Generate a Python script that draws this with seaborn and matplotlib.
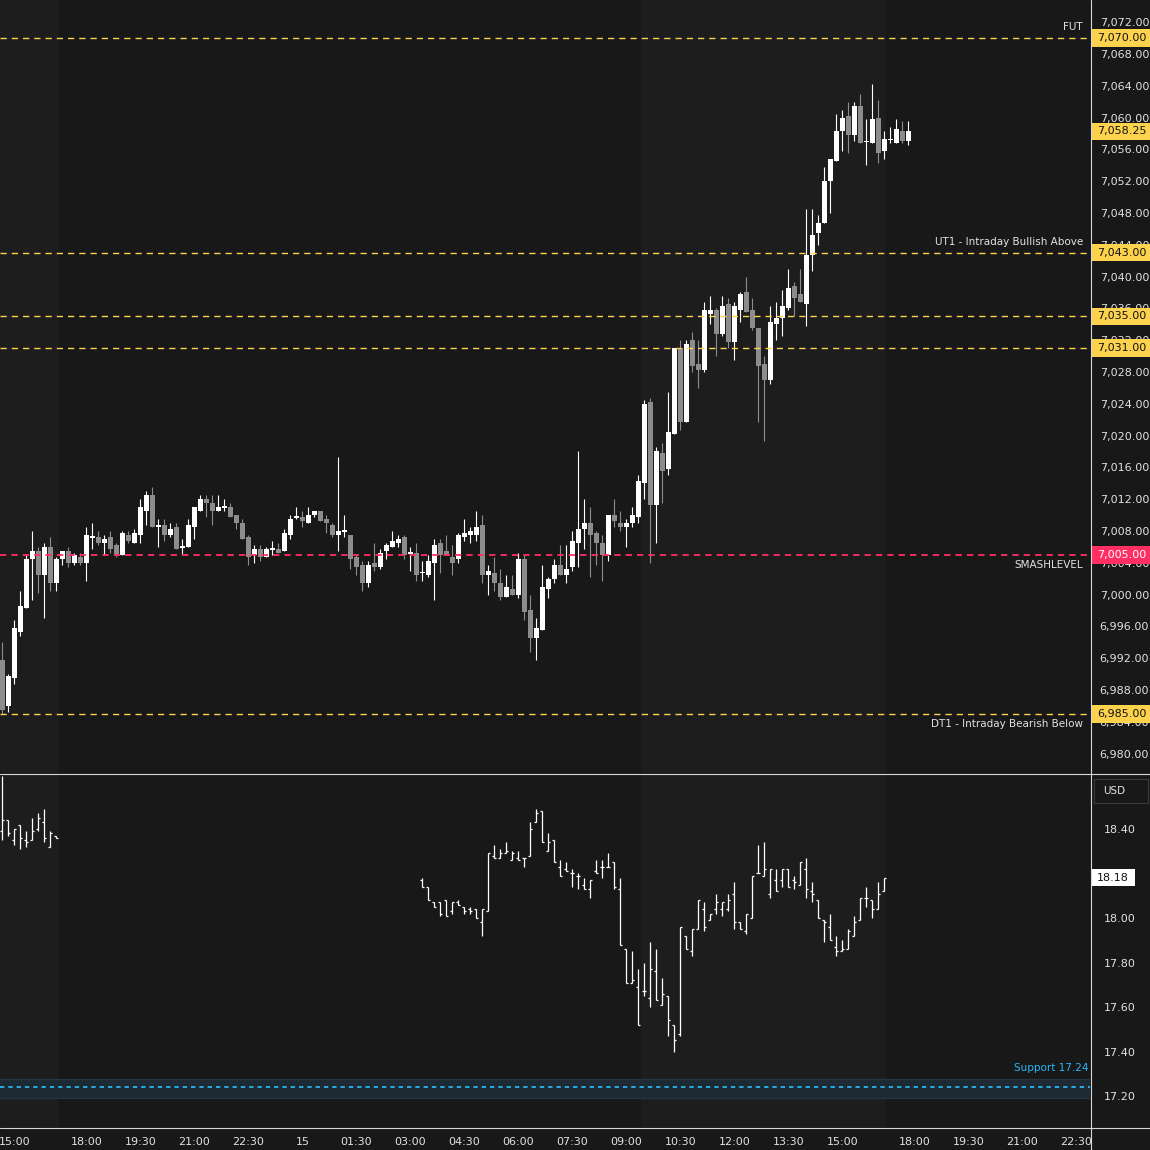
import matplotlib
matplotlib.use('Agg')
import matplotlib.pyplot as plt
import matplotlib.transforms as mtransforms
from matplotlib.patches import Rectangle
from matplotlib.lines import Line2D
import seaborn as sns
import numpy as np
import pandas as pd

# ---- futures candles (10 min bars, index 0 = 14:40) ----
fut_open = [
    6991.75, 6986.0, 6989.5, 6995.25, 6998.25, 7004.5, 7005.5, 7002.5, 7006.0, 7001.5,
    7004.5, 7005.5, 7004.0, 7004.75, 7004.0, 7007.25, 7007.25, 7006.5, 7007.25, 7006.25,
    7005.0, 7007.5, 7006.5, 7007.5, 7010.5, 7012.5, 7008.5, 7008.75, 7007.5, 7008.5,
    7006.0, 7006.0, 7008.5, 7010.5, 7012.0, 7011.5, 7010.5, 7011.0, 7011.0, 7010.0,
    7009.0, 7007.25, 7005.0, 7005.75, 7004.75, 7005.75, 7005.75, 7005.5, 7007.5, 7009.75,
    7009.75, 7009.0, 7010.0, 7010.5, 7009.5, 7008.75, 7007.5, 7008.0, 7007.5, 7004.75,
    7003.75, 7001.5, 7004.0, 7003.5, 7005.5, 7006.0, 7006.5, 7007.25, 7005.25, 7005.25,
    7002.75, 7002.5, 7004.0, 7006.5, 7005.5, 7004.75, 7004.5, 7007.25, 7007.5, 7007.5,
    7008.75, 7002.5, 7002.75, 7001.5, 6999.75, 7000.75, 7000.0, 7004.5, 6998.0, 6994.5,
    6995.5, 7000.75, 7002.0, 7003.75, 7002.5, 7003.5, 7006.5, 7008.25, 7009.0, 7007.75,
    7006.5, 7005.0, 7010.0, 7009.0, 7008.5, 7009.0, 7009.75, 7014.0, 7024.25, 7011.25,
    7017.75, 7015.75, 7020.25, 7031.0, 7021.75, 7032.0, 7029.0, 7028.25, 7035.25, 7035.75,
    7032.75, 7036.5, 7031.75, 7035.75, 7038.0, 7035.75, 7033.5, 7029.0, 7027.0, 7034.0,
    7034.75, 7036.0, 7038.75, 7037.75, 7036.5, 7042.75, 7045.5, 7046.75, 7052.0, 7054.5,
    7058.25, 7060.25, 7057.75, 7061.5, 7057.0, 7056.75, 7060.0, 7055.75, 7057.25, 7056.75,
    7058.25, 7057.0]
fut_high = [
    6994.0, 6990.0, 6996.75, 7000.5, 7005.0, 7008.0, 7006.0, 7006.5, 7007.25, 7004.75,
    7005.5, 7006.0, 7005.25, 7005.25, 7008.5, 7009.0, 7008.0, 7007.5, 7008.0, 7006.5,
    7008.0, 7008.0, 7008.25, 7012.0, 7013.0, 7013.5, 7009.5, 7009.5, 7009.0, 7009.0,
    7007.0, 7009.5, 7011.0, 7012.5, 7012.5, 7012.5, 7012.5, 7012.0, 7011.5, 7010.0,
    7009.5, 7007.5, 7006.25, 7006.25, 7006.0, 7006.75, 7006.5, 7008.25, 7010.0, 7011.0,
    7010.5, 7011.0, 7010.5, 7010.5, 7010.0, 7009.0, 7017.25, 7010.0, 7007.5, 7005.0,
    7004.25, 7004.25, 7006.5, 7005.75, 7006.5, 7008.0, 7007.5, 7007.5, 7006.0, 7006.5,
    7004.25, 7005.0, 7007.0, 7007.0, 7007.5, 7006.25, 7007.75, 7009.5, 7008.5, 7010.5,
    7010.0, 7003.75, 7004.75, 7003.25, 7002.5, 7002.5, 7005.25, 7005.0, 7000.0, 6997.0,
    7003.75, 7002.25, 7004.5, 7006.25, 7006.25, 7008.0, 7018.0, 7012.0, 7011.0, 7008.0,
    7007.5, 7010.0, 7012.0, 7010.5, 7009.5, 7011.0, 7015.0, 7024.5, 7024.75, 7018.5,
    7019.0, 7025.5, 7031.0, 7032.0, 7032.0, 7033.0, 7032.0, 7036.75, 7037.5, 7036.0,
    7037.5, 7037.25, 7036.75, 7038.0, 7040.0, 7037.25, 7033.5, 7030.0, 7036.25, 7036.75,
    7038.25, 7041.0, 7039.25, 7041.0, 7048.5, 7048.5, 7047.75, 7053.75, 7054.75, 7060.5,
    7061.0, 7062.0, 7062.0, 7063.0, 7059.75, 7064.25, 7062.25, 7058.25, 7058.75, 7059.75,
    7059.5, 7059.5]
fut_low = [
    6985.0, 6985.25, 6988.75, 6994.75, 6998.25, 6999.25, 7000.25, 6997.0, 7000.5, 7000.5,
    7003.75, 7003.5, 7003.75, 7003.75, 7001.75, 7005.75, 7006.25, 7005.0, 7005.25, 7004.75,
    7005.0, 7006.5, 7006.5, 7006.5, 7008.75, 7008.5, 7006.0, 7006.75, 7007.25, 7005.75,
    7005.0, 7006.0, 7007.0, 7010.5, 7009.75, 7008.75, 7010.5, 7010.5, 7009.75, 7008.25,
    7007.0, 7003.75, 7004.0, 7004.25, 7004.75, 7005.0, 7005.25, 7005.5, 7007.0, 7009.5,
    7008.5, 7009.0, 7009.75, 7009.25, 7007.75, 7007.25, 7005.5, 7007.25, 7003.25, 7002.5,
    7000.5, 7001.0, 7003.0, 7003.25, 7004.5, 7006.0, 7006.0, 7004.5, 7003.0, 7001.75,
    7001.75, 7002.25, 6999.25, 7002.75, 7005.0, 7002.5, 7004.0, 7006.75, 7006.5, 7006.75,
    7001.5, 7000.0, 7000.5, 6999.25, 6999.75, 7000.0, 6999.5, 6996.75, 6992.75, 6991.75,
    6995.5, 6999.5, 7001.5, 7002.5, 7001.5, 7003.0, 7003.5, 7005.75, 7002.25, 7003.75,
    7001.75, 7004.25, 7008.5, 7008.0, 7006.0, 7008.5, 7009.0, 7012.0, 7004.0, 7006.5,
    7011.5, 7015.0, 7020.25, 7020.75, 7021.75, 7028.0, 7026.0, 7028.0, 7034.0, 7030.0,
    7032.5, 7031.0, 7029.5, 7034.25, 7035.5, 7033.25, 7021.75, 7019.25, 7026.5, 7032.0,
    7032.5, 7035.75, 7035.0, 7036.75, 7033.75, 7040.75, 7044.0, 7046.75, 7048.0, 7054.5,
    7055.75, 7055.5, 7057.0, 7056.75, 7054.0, 7056.75, 7054.25, 7054.75, 7056.75, 7056.75,
    7056.75, 7056.5]
fut_close = [
    6985.5, 6989.75, 6995.75, 6998.5, 7004.5, 7005.5, 7002.5, 7006.0, 7001.5, 7004.5,
    7005.5, 7004.0, 7005.0, 7004.0, 7007.5, 7007.25, 7006.5, 7007.0, 7005.75, 7005.0,
    7007.75, 7006.75, 7007.75, 7011.0, 7012.5, 7008.5, 7008.75, 7007.5, 7008.25, 7005.75,
    7006.0, 7008.75, 7011.0, 7012.0, 7011.5, 7010.5, 7011.0, 7011.0, 7009.75, 7009.0,
    7007.0, 7004.75, 7005.75, 7004.75, 7005.75, 7005.75, 7005.25, 7007.75, 7009.5, 7009.75,
    7009.25, 7010.0, 7010.5, 7009.25, 7009.0, 7007.5, 7008.0, 7008.0, 7004.5, 7003.5,
    7001.5, 7003.75, 7003.5, 7005.25, 7006.25, 7006.75, 7007.0, 7005.0, 7005.25, 7002.5,
    7002.75, 7004.25, 7006.25, 7005.0, 7005.0, 7004.0, 7007.5, 7007.75, 7008.0, 7008.5,
    7002.5, 7003.0, 7001.5, 6999.75, 7001.0, 7000.0, 7004.5, 6997.75, 6994.5, 6995.75,
    7001.0, 7002.0, 7003.75, 7002.5, 7003.25, 7006.75, 7008.25, 7009.0, 7007.5, 7006.5,
    7005.0, 7010.0, 7009.25, 7008.5, 7009.0, 7010.0, 7014.25, 7024.0, 7011.25, 7018.0,
    7015.5, 7020.5, 7031.0, 7021.75, 7031.5, 7028.75, 7028.25, 7035.75, 7035.75, 7032.75,
    7036.25, 7031.75, 7036.25, 7037.75, 7035.5, 7033.5, 7028.75, 7027.0, 7034.25, 7034.75,
    7036.25, 7038.5, 7037.25, 7036.75, 7042.75, 7045.25, 7046.75, 7052.0, 7054.75, 7058.25,
    7060.0, 7057.75, 7061.5, 7056.75, 7057.0, 7059.75, 7055.5, 7057.25, 7057.25, 7058.5,
    7057.0, 7058.25]

# ---- lower pane OHLC bars (same time grid, gap overnight) ----
vix_bars = list(range(0, 10)) + list(range(70, 148))
vix_open = [
    18.39, 18.44, 18.35, 18.42, 18.35, 18.35, 18.40, 18.43, 18.32, 18.37,
    18.17, 18.14, 18.07, 18.07, 18.08, 18.03, 18.07, 18.05, 18.04, 18.04,
    17.98, 18.03, 18.28, 18.27, 18.29, 18.26, 18.27, 18.27, 18.28, 18.43,
    18.48, 18.30, 18.35, 18.23, 18.22, 18.20, 18.19, 18.15, 18.13, 18.21,
    18.23, 18.23, 18.25, 18.13, 17.86, 17.71, 17.69, 17.67, 17.64, 17.76,
    17.61, 17.65, 17.52, 17.48, 17.92, 17.85, 17.95, 18.04, 17.99, 18.04,
    18.04, 18.04, 18.11, 17.98, 17.94, 18.00, 18.20, 18.19, 18.11, 18.17,
    18.17, 18.22, 18.17, 18.15, 18.22, 18.12, 18.08, 17.99, 17.96, 17.87,
    17.85, 17.86, 17.92, 17.99, 18.09, 18.08, 18.04, 18.12]
vix_high = [
    18.64, 18.44, 18.40, 18.42, 18.39, 18.45, 18.47, 18.49, 18.39, 18.37,
    18.18, 18.14, 18.07, 18.07, 18.08, 18.07, 18.08, 18.05, 18.05, 18.04,
    18.04, 18.29, 18.33, 18.31, 18.34, 18.30, 18.30, 18.27, 18.43, 18.49,
    18.48, 18.38, 18.35, 18.26, 18.25, 18.22, 18.20, 18.18, 18.17, 18.26,
    18.26, 18.29, 18.25, 18.18, 17.86, 17.85, 17.77, 17.80, 17.89, 17.86,
    17.73, 17.65, 17.52, 17.96, 17.92, 17.95, 18.08, 18.07, 18.02, 18.11,
    18.07, 18.11, 18.16, 17.98, 18.02, 18.19, 18.33, 18.34, 18.22, 18.22,
    18.22, 18.22, 18.19, 18.25, 18.27, 18.16, 18.08, 17.99, 18.02, 17.92,
    17.90, 17.95, 18.01, 18.09, 18.14, 18.08, 18.16, 18.18]
vix_low = [
    18.35, 18.37, 18.33, 18.31, 18.32, 18.35, 18.39, 18.34, 18.32, 18.36,
    18.14, 18.08, 18.05, 18.01, 18.01, 18.02, 18.06, 18.02, 18.02, 18.00,
    17.92, 18.03, 18.27, 18.27, 18.29, 18.26, 18.26, 18.23, 18.28, 18.43,
    18.34, 18.30, 18.25, 18.19, 18.21, 18.14, 18.13, 18.13, 18.09, 18.20,
    18.18, 18.23, 18.13, 17.88, 17.71, 17.71, 17.52, 17.65, 17.60, 17.63,
    17.61, 17.47, 17.40, 17.47, 17.86, 17.83, 17.95, 17.94, 17.99, 18.02,
    18.01, 18.03, 17.95, 17.95, 17.93, 18.00, 18.20, 18.19, 18.09, 18.12,
    18.14, 18.14, 18.13, 18.15, 18.09, 18.07, 18.00, 17.89, 17.90, 17.83,
    17.85, 17.86, 17.92, 17.99, 18.05, 18.00, 18.04, 18.12]
vix_close = [
    18.44, 18.38, 18.40, 18.36, 18.34, 18.39, 18.45, 18.36, 18.38, 18.36,
    18.14, 18.08, 18.05, 18.02, 18.01, 18.07, 18.06, 18.03, 18.03, 18.00,
    18.04, 18.29, 18.27, 18.29, 18.30, 18.29, 18.26, 18.27, 18.40, 18.47,
    18.34, 18.34, 18.25, 18.19, 18.21, 18.20, 18.19, 18.13, 18.17, 18.20,
    18.23, 18.23, 18.14, 17.88, 17.71, 17.72, 17.52, 17.67, 17.77, 17.63,
    17.66, 17.54, 17.45, 17.96, 17.86, 17.95, 18.08, 17.96, 18.02, 18.07,
    18.07, 18.08, 17.98, 17.95, 18.02, 18.19, 18.20, 18.22, 18.22, 18.12,
    18.22, 18.14, 18.16, 18.25, 18.13, 18.11, 18.00, 17.98, 17.90, 17.85,
    17.86, 17.94, 17.98, 18.09, 18.09, 18.04, 18.11, 18.18]

# ---- levels ----
level_prices = [7070.0, 7043.0, 7035.0, 7031.0, 7005.0, 6985.0]
level_names = ['FUT', 'UT1 - Intraday Bullish Above', '', '', 'SMASHLEVEL', 'DT1 - Intraday Bearish Below']
level_kind = ['yellow', 'yellow', 'yellow', 'yellow', 'red', 'yellow']
last_price = 7058.25
support_level = 17.24
support_band = (17.19, 17.276)
vix_last = 18.18

time_ticks = [2, 14, 23, 32, 41, 50, 59, 68, 77, 86, 95, 104, 113, 122, 131, 140, 152, 161, 170, 179]
time_labels = ['15:00', '18:00', '19:30', '21:00', '22:30', '15', '01:30', '03:00', '04:30', '06:00',
               '07:30', '09:00', '10:30', '12:00', '13:30', '15:00', '18:00', '19:30', '21:00', '22:30']

BG = '#181818'
BAND = '#1d1d1d'
TXT = '#e2e2e2'
YEL = '#fdd34d'
RED = '#ff2e63'
GREY = '#8c8c8c'
CYAN = '#29b6f6'

sns.set_theme(style='dark', rc={'axes.facecolor': BG, 'figure.facecolor': BG,
                                'axes.edgecolor': BG, 'axes.grid': False})
plt.rcParams['font.family'] = ['DejaVu Sans']

W = H = 1150
fig = plt.figure(figsize=(11.5, 11.5), dpi=100)


def rect(x0, y0, x1, y1):
    return [x0 / W, 1 - y1 / H, (x1 - x0) / W, (y1 - y0) / H]


ax = fig.add_axes(rect(0, 0, 1090, 773))
ax2 = fig.add_axes(rect(0, 774, 1090, 1127))
for a in (ax, ax2):
    a.set_xlim(-0.39, 181.28)
    for s in a.spines.values():
        s.set_visible(False)
    a.axvspan(-1, 9.5, color=BAND, lw=0, zorder=0)
    a.axvspan(106.5, 147.3, color=BAND, lw=0, zorder=0)

# ---- candles ----
df = pd.DataFrame({'o': fut_open, 'h': fut_high, 'l': fut_low, 'c': fut_close})
df['i'] = np.arange(len(df))
up = df['c'] >= df['o']
cols = np.where(up, '#ffffff', GREY)
ax.vlines(df['i'], df['l'], df['h'], colors=cols, lw=0.8, zorder=2)
body = (df['c'] - df['o']).abs()
hgt = np.where(body < 0.2, 0.2, body)
bot = np.minimum(df['o'], df['c']) - np.where(body < 0.2, 0.1, 0)
ax.bar(df['i'], hgt, bottom=bot, width=0.8, color=cols, lw=0, zorder=3)
ax.set_ylim(6977.55, 7074.78)

blend = mtransforms.blended_transform_factory(ax.transAxes, ax.transData)
for p, name, kind in zip(level_prices, level_names, level_kind):
    if kind == 'yellow':
        ax.axhline(p, color=YEL, lw=1.0, ls=(0, (4.5, 3.6)), zorder=4)
    else:
        ax.axhline(p, color=RED, lw=1.3, ls=(0, (3.5, 2.8)), zorder=4)
    if name:
        above = p >= 7040
        ax.annotate(name, xy=(0.9936, p), xycoords=blend, xytext=(0, 8 if above else -7.5),
                    textcoords='offset points', ha='right', va='center', fontsize=7.5, color=TXT)

ax.yaxis.tick_right()
ax.set_yticks(np.arange(6980, 7073, 4))
ax.yaxis.set_major_formatter(matplotlib.ticker.StrMethodFormatter('{x:,.2f}'))
ax.tick_params(axis='y', length=0, pad=7, labelsize=8, labelcolor=TXT)
ax.tick_params(axis='x', length=0, labelbottom=False)

# price tags on the axis
ftag = mtransforms.blended_transform_factory(fig.transFigure, ax.transData)
tag_list = [(p, YEL if k == 'yellow' else RED, '#111111' if k == 'yellow' else '#ffffff')
            for p, k in zip(level_prices, level_kind)] + [(last_price, YEL, '#111111')]
for p, fc, tc in tag_list:
    ax.add_patch(Rectangle((1092 / W, p - 1.1), 58 / W, 2.2, transform=ftag, facecolor=fc,
                           lw=0, clip_on=False, zorder=10))
    ax.text(1122 / W, p, f'{p:,.2f}', transform=ftag, ha='center', va='center',
            fontsize=8, color=tc, zorder=11, clip_on=False)

# ---- lower pane ----
vx = np.array(vix_bars, dtype=float)
ax2.axhspan(*support_band, color='#1e2a33', lw=0, zorder=1)
for b in support_band:
    ax2.axhline(b, color='#27363f', lw=0.9, zorder=1)
ax2.axhline(support_level, color=CYAN, lw=1.3, ls=(0, (2.4, 2.2)), zorder=2)
ax2.annotate(f'Support {support_level:.2f}', xy=(1.0, support_level),
             xycoords=mtransforms.blended_transform_factory(ax2.transAxes, ax2.transData),
             xytext=(-1, 13.5), textcoords='offset points', ha='right', va='center',
             fontsize=7.5, color=CYAN)
ax2.vlines(vx, vix_low, vix_high, colors='white', lw=0.9, zorder=3)
ax2.hlines(vix_open, vx - 0.36, vx, colors='white', lw=0.9, zorder=3)
ax2.hlines(vix_close, vx, vx + 0.36, colors='white', lw=0.9, zorder=3)
ax2.set_ylim(17.061, 18.647)
ax2.yaxis.tick_right()
ax2.set_yticks(np.arange(17.2, 18.41, 0.2))
ax2.yaxis.set_major_formatter(matplotlib.ticker.StrMethodFormatter('{x:.2f}'))
ax2.tick_params(axis='y', length=0, pad=10, labelsize=8, labelcolor=TXT)
ax2.set_xticks(time_ticks)
ax2.set_xticklabels(time_labels)
ax2.tick_params(axis='x', length=0, pad=7, labelsize=8, labelcolor=TXT)

ftag2 = mtransforms.blended_transform_factory(fig.transFigure, ax2.transData)
ax2.add_patch(Rectangle((1091 / W, vix_last - 0.038), 44 / W, 0.076, transform=ftag2,
                        facecolor='#ffffff', lw=0, clip_on=False, zorder=10))
ax2.text(1113 / W, vix_last, f'{vix_last:.2f}', transform=ftag2, ha='center', va='center',
         fontsize=8, color='#111111', zorder=11, clip_on=False)

# USD unit button
fig.add_artist(Rectangle((1094 / W, 1 - 803 / H), 54 / W, 24 / H, transform=fig.transFigure,
                         facecolor=BG, edgecolor='#3c3c3c', lw=0.8))
fig.text(1103 / W, 1 - 791 / H, 'USD', ha='left', va='center', fontsize=7.5, color=TXT)

# frame lines
line_c = '#d8d8d8'
fig.add_artist(Line2D([1090.5 / W] * 2, [0, 1], transform=fig.transFigure, color=line_c, lw=0.8))
fig.add_artist(Line2D([0, 1], [1 - 773.5 / H] * 2, transform=fig.transFigure, color=line_c, lw=0.8))
fig.add_artist(Line2D([0, 1], [1 - 1127.5 / H] * 2, transform=fig.transFigure, color=line_c, lw=0.8))

fig.savefig('out.png', dpi=100, facecolor=BG)
